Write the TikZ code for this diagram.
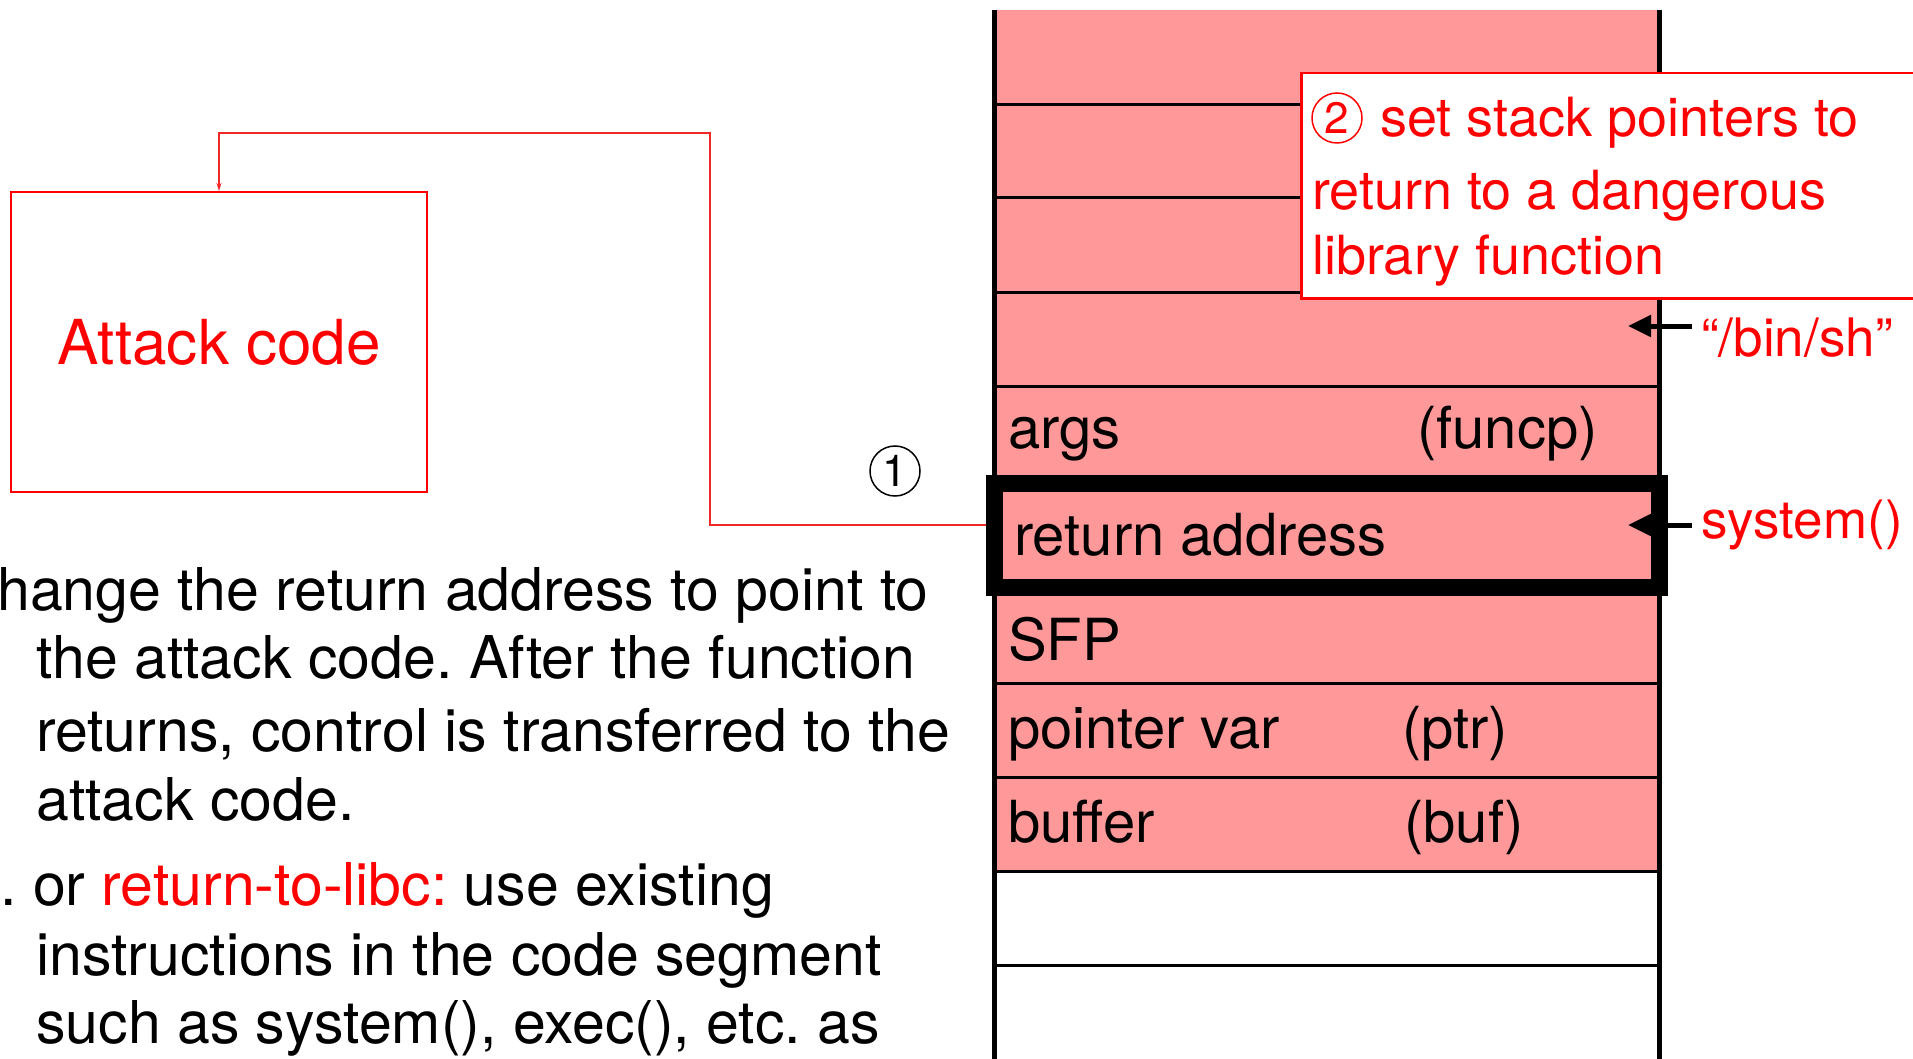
\documentclass[tikz,border=0pt]{standalone}
\usepackage{fontspec}
\setmainfont{TeX Gyre Heros}
\usetikzlibrary{arrows.meta,calc}
\frenchspacing
\definecolor{stackpink}{RGB}{255,153,153}
\definecolor{hired}{RGB}{255,0,0}
\definecolor{linkred}{RGB}{240,40,40}
\tikzset{
 lbl/.style={anchor=base west, inner sep=0pt, font=\fontsize{58}{70}\selectfont},
 body/.style={anchor=base west, inner sep=0pt, font=\fontsize{59}{70}\selectfont},
 note/.style={anchor=base west, inner sep=0pt, text=hired, font=\fontsize{54}{65}\selectfont},
 side/.style={anchor=base west, inner sep=0pt, text=hired, font=\fontsize{53}{64}\selectfont},
 divider/.style={line width=3pt, black},
 wall/.style={line width=5pt, black},
 blkarrow/.style={line width=5pt, -{Triangle[length=23pt,width=21pt]}},
 link/.style={linkred, line width=2pt, -{Stealth[length=8pt,width=5pt]}},
 circnum/.style={circle, draw, line width=1.5pt, minimum size=50pt, inner sep=0pt, font=\fontsize{44}{44}\selectfont},
}
\begin{document}
\begin{tikzpicture}[x=1pt,y=-1pt]
\useasboundingbox (0,0) rectangle (1913,1059);
\fill[white] (0,0) rectangle (1913,1059);
% stack
\fill[stackpink] (994,10) rectangle (1659,871);
\foreach \yy in {105,198,292,386,683,777,871,965} \draw[divider] (994,\yy) -- (1659,\yy);
\draw[wall] (994,10) -- (994,1059);
\draw[wall] (1659,10) -- (1659,1059);
\node[draw, line width=17pt, minimum width=665pt, minimum height=104pt, inner sep=0pt] (ret) at (1326.5,535) {};
% stack labels
\node[lbl] (argsl) at (1008,448) {args};
\node[lbl] (funcp) at (1417,448) {(funcp)};
\node[lbl] (retl) at (1014,555) {return address};
\node[lbl] (sfp) at (1008,660) {SFP};
\node[lbl] (ptrvar) at (1008,748) {pointer var};
\node[lbl] (ptr) at (1402,748) {(ptr)};
\node[lbl] (bufl) at (1008,842) {buffer};
\node[lbl] (buf) at (1404,842) {(buf)};
% callout
\node[draw=hired, fill=white, line width=2.5pt, minimum width=640pt, minimum height=225pt, inner sep=0pt, anchor=north west] (callout) at (1300,72) {};
\node[circnum, draw=hired, text=hired] (two) at (1337,118) {2};
\node[note] (n1) at (1380,137) {set stack pointers to};
\node[note] (n2) at (1312,210) {return to a dangerous};
\node[note] (n3) at (1312,274) {library function};
% side labels with arrows
\node[side] (binsh) at (1701,356) {“/bin/sh”};
\node[side] (sys) at (1701,538) {system()};
\coordinate (binshpt) at (1628,326);
\coordinate (syspt) at (1628,525);
\draw[blkarrow] ($(binsh.west |- binshpt)+(-9,0)$) -- (binshpt);
\draw[blkarrow] ($(sys.west |- syspt)+(-9,0)$) -- (syspt);
% attack code
\node[draw=hired, line width=2pt, minimum width=416pt, minimum height=300pt, inner sep=0pt, text=hired, font=\fontsize{62}{62}\selectfont] (attack) at (219,342) {Attack code};
\coordinate (bend) at (710,133);
\draw[link] ([yshift=10pt]ret.west) -| (bend) -| (attack.north);
\node[circnum] (one) at (895,471) {1};
% left text
\node[body] (l1) at (-3,610) {hange the return address to point to};
\node[body] (l2) at (36,678) {the attack code. After the function};
\node[body] (l3) at (36,751) {returns, control is transferred to the};
\node[body] (l4) at (36,820) {attack code.};
\node[body] (l5) at (0,905) {. or \textcolor{hired}{return-to-libc:} use existing};
\node[body] (l6) at (36,975) {instructions in the code segment};
\node[body] (l7) at (36,1043) {such as system(), exec(), etc. as};
\end{tikzpicture}
\end{document}
